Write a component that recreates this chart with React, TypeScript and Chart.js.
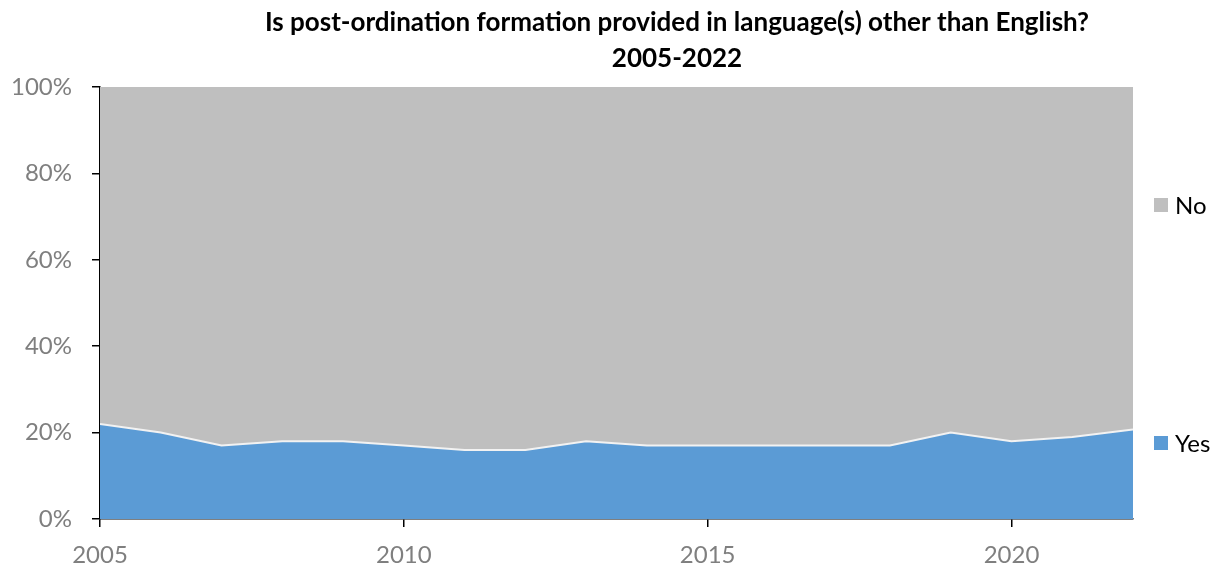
import React, { useEffect, useRef } from "react";
import { Chart, registerables } from "chart.js";

Chart.register(...registerables);

const years = [2005, 2006, 2007, 2008, 2009, 2010, 2011, 2012, 2013, 2014, 2015, 2016, 2017, 2018, 2019, 2020, 2021, 2022];
const yesValues = [22, 20, 17, 18, 18, 17, 16, 16, 18, 17, 17, 17, 17, 17, 20, 18, 19, 20.7];
const noValues = [78, 80, 83, 82, 82, 83, 84, 84, 82, 83, 83, 83, 83, 83, 80, 82, 81, 79.3];
const titleLines = ["Is post-ordination formation provided in language(s) other than English?", "2005-2022"];
const seriesNames = ["Yes", "No"];
const seriesColors = ["#5B9BD5", "#BFBFBF"];
const FONT = "Lato, 'Open Sans', sans-serif";

const overlayPlugin = {
  id: "overlay",
  afterDraw(chart: any) {
    const ctx = chart.ctx;
    const area = chart.chartArea;
    ctx.save();
    // title
    ctx.fillStyle = "#000";
    ctx.textAlign = "center";
    ctx.textBaseline = "middle";
    ctx.font = `bold 26px ${FONT}`;
    ctx.fillText(titleLines[0], 677, 23);
    ctx.fillText(titleLines[1], 677, 59);
    // legend
    const entries = [
      { name: seriesNames[1], color: seriesColors[1], y: 205 },
      { name: seriesNames[0], color: seriesColors[0], y: 443 },
    ];
    ctx.textAlign = "left";
    ctx.font = `24px ${FONT}`;
    for (const e of entries) {
      ctx.fillStyle = e.color;
      ctx.fillRect(area.right + 21, e.y - 7, 14, 14);
      ctx.fillStyle = "#000";
      ctx.fillText(e.name, area.right + 42, e.y + 1);
    }
    ctx.restore();
  },
};

export default function App() {
  const ref = useRef<HTMLCanvasElement | null>(null);
  useEffect(() => {
    if (!ref.current) return;
    const chart = new Chart(ref.current, {
      type: "line",
      data: {
        datasets: [
          {
            label: seriesNames[0],
            data: years.map((x, i) => ({ x, y: yesValues[i] })),
            fill: "origin",
            backgroundColor: seriesColors[0],
            borderColor: "#F2F2F2",
            borderWidth: 2,
            pointRadius: 0,
            tension: 0,
          },
          {
            label: seriesNames[1],
            data: years.map((x, i) => ({ x, y: noValues[i] })),
            fill: "-1",
            backgroundColor: seriesColors[1],
            borderColor: "rgba(0,0,0,0)",
            borderWidth: 0,
            pointRadius: 0,
            tension: 0,
          },
        ],
      },
      options: {
        animation: false,
        responsive: true,
        maintainAspectRatio: false,
        layout: { padding: { top: 87, right: 92, left: 0, bottom: 0 } },
        plugins: {
          legend: { display: false },
          title: { display: false },
          tooltip: { enabled: false },
        },
        scales: {
          x: {
            type: "linear",
            min: 2005,
            max: 2022,
            afterBuildTicks: (s: any) => {
              s.ticks = s.ticks.filter((t: any) => t.value % 5 === 0);
            },
            afterFit: (s: any) => {
              s.height = 50;
            },
            ticks: {
              stepSize: 5,
              color: "#7F7F7F",
              font: { family: FONT, size: 24 },
              padding: 14,
              maxRotation: 0,
              callback: (v: any) => String(v),
            },
            grid: { drawOnChartArea: false, drawTicks: true, tickLength: 8, color: "#000", lineWidth: 1.5 },
            border: { color: "#000", width: 1.5 },
          },
          y: {
            stacked: true,
            min: 0,
            max: 100,
            afterFit: (s: any) => {
              s.width = 100;
            },
            ticks: {
              stepSize: 20,
              color: "#7F7F7F",
              font: { family: FONT, size: 24 },
              padding: 20,
              callback: (v: any) => v + "%",
            },
            grid: { drawOnChartArea: false, drawTicks: true, tickLength: 8, color: "#000", lineWidth: 1.5 },
            border: { color: "#000", width: 1.5 },
          },
        },
      },
      plugins: [overlayPlugin],
    });
    return () => chart.destroy();
  }, []);
  return (
    <div style={{ position: "fixed", left: 0, top: 0, width: 1225, height: 569, background: "#fff" }}>
      <canvas ref={ref} />
    </div>
  );
}
